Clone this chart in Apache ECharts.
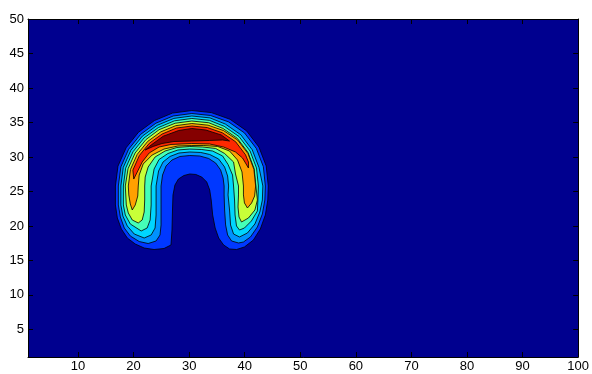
<!DOCTYPE html>
<html>
<head>
<meta charset="utf-8">
<script src="https://cdn.jsdelivr.net/npm/echarts@6/dist/echarts.min.js"></script>
<style>
html,body{margin:0;padding:0;background:#fff;}
#chart{width:592px;height:374px;}
</style>
</head>
<body>
<div id="chart"></div>
<script>
const xTicks = [10,20,30,40,50,60,70,80,90,100];
const yTicks = [5,10,15,20,25,30,35,40,45,50];
const backgroundColor = '#00008F';
const levelColors = ['#0038FF','#0092FF','#00D5FF','#45FFB8','#C8FF38','#FFA000','#FF2800','#850000'];

const level1 = [[26.73,17.24],[25.48,16.73],[23.69,16.58],[21.91,16.80],[20.30,17.38],[18.87,18.25],[17.80,19.56],[17.08,21.15],[16.73,23.04],[16.73,25.79],[17.19,28.67],[18.65,31.33],[20.88,33.58],[23.74,35.27],[26.99,36.36],[30.48,36.73],[34.00,36.43],[37.36,35.46],[40.34,33.78],[42.55,31.44],[43.86,28.70],[44.24,25.79],[44.15,23.76],[43.71,21.59],[42.81,19.56],[41.56,17.96],[39.95,16.95],[38.52,16.58],[37.27,16.66],[36.20,17.24],[35.31,18.25],[34.68,19.70],[34.23,21.59],[33.97,23.76],[33.70,25.21],[33.16,26.37],[32.27,27.09],[31.20,27.46],[30.12,27.53],[29.05,27.31],[28.07,26.80],[27.44,25.93],[27.09,24.49],[27.00,22.31],[26.91,19.41]];

const level2 = [[22.62,17.45],[21.01,17.74],[19.41,18.54],[18.33,19.70],[17.62,21.30],[17.26,23.04],[17.26,25.79],[17.71,28.56],[19.11,31.12],[21.26,33.27],[24.01,34.89],[27.13,35.94],[30.48,36.30],[33.86,36.01],[37.10,35.08],[39.96,33.48],[42.09,31.23],[43.35,28.59],[43.71,25.79],[43.62,23.76],[43.17,21.73],[42.28,19.85],[41.03,18.40],[39.77,17.67],[38.88,17.53],[37.63,17.82],[36.92,18.69],[36.56,20.14],[36.38,22.31],[36.29,24.49],[36.29,25.79],[36.11,26.95],[35.66,28.11],[34.77,29.12],[33.52,29.78],[31.91,30.14],[30.12,30.21],[28.34,30.07],[26.91,29.56],[25.84,28.69],[25.21,27.38],[24.94,25.79],[24.94,23.04],[24.94,20.14],[24.76,18.69],[24.05,17.82]];

const level3 = [[21.91,18.25],[20.12,18.83],[18.87,19.99],[18.07,21.44],[17.71,23.04],[17.71,25.79],[18.14,28.47],[19.50,30.94],[21.58,33.02],[24.23,34.58],[27.25,35.59],[30.48,35.94],[33.74,35.66],[36.51,34.77],[39.29,33.22],[41.35,31.04],[42.56,28.49],[43.26,25.79],[43.17,23.76],[42.72,22.02],[41.83,20.28],[40.49,18.98],[39.06,18.40],[37.99,18.83],[37.45,20.14],[37.27,22.31],[37.00,24.49],[37.10,25.79],[36.92,27.24],[36.38,28.54],[35.31,29.70],[33.70,30.36],[32.09,30.65],[30.12,30.72],[28.16,30.57],[26.55,30.07],[25.30,29.27],[24.50,27.96],[24.05,25.79],[24.05,23.76],[24.05,21.59],[23.87,19.70],[23.16,18.69]];

const level4 = [[21.37,19.27],[19.41,20.28],[18.51,21.59],[18.16,23.04],[18.16,25.79],[18.57,28.37],[19.89,30.75],[21.89,32.76],[24.46,34.26],[27.36,35.24],[30.48,35.58],[33.64,35.31],[36.29,34.45],[38.97,32.96],[40.96,30.86],[42.12,28.40],[42.46,25.79],[42.37,23.76],[42.28,22.17],[41.20,20.72],[39.95,19.70],[39.06,19.41],[38.52,19.99],[38.26,21.59],[38.17,23.76],[37.99,25.79],[37.81,27.38],[37.00,28.91],[36.02,30.14],[34.23,30.86],[32.27,31.08],[30.12,31.15],[27.98,31.01],[26.19,30.50],[24.58,29.63],[23.69,28.25],[23.16,25.79],[23.16,23.04],[22.98,20.86],[22.44,19.70]];

const level5 = [[20.84,20.43],[19.76,20.86],[19.05,21.88],[18.69,23.04],[18.51,25.79],[19.00,28.28],[20.27,30.57],[22.21,32.51],[24.58,33.95],[27.48,34.89],[30.48,35.21],[33.52,34.96],[36.07,34.14],[38.65,32.71],[40.57,30.68],[41.69,28.31],[42.01,25.79],[42.28,23.76],[41.83,22.31],[40.67,21.15],[39.42,20.57],[38.97,21.30],[38.79,22.75],[38.88,24.49],[38.88,25.79],[38.34,27.53],[37.99,29.27],[36.38,30.50],[34.77,31.23],[32.45,31.44],[30.12,31.52],[27.80,31.37],[25.66,30.86],[23.87,29.99],[22.62,28.54],[22.09,27.09],[22.00,25.79],[22.00,23.76],[21.91,22.02],[21.55,20.86]];

const level6 = [[19.76,22.31],[19.41,23.18],[19.14,24.49],[19.05,25.79],[19.44,28.19],[20.66,30.39],[22.53,32.25],[24.90,33.64],[27.59,34.54],[30.48,34.85],[33.40,34.61],[36.20,33.82],[38.73,32.45],[40.58,30.50],[41.65,28.21],[41.96,25.79],[41.78,24.34],[41.24,23.33],[40.49,22.60],[39.95,23.33],[39.77,24.49],[39.77,25.79],[39.51,27.82],[38.70,29.56],[37.27,30.86],[35.13,31.52],[32.63,31.66],[30.48,31.66],[27.98,31.59],[25.48,31.15],[23.34,30.28],[21.73,28.98],[21.01,27.38],[20.84,25.79],[20.75,24.34],[20.30,23.04]];

const level7 = [[20.03,26.80],[19.87,28.09],[21.04,30.21],[22.84,31.99],[25.12,33.32],[27.71,34.19],[30.48,34.49],[33.27,34.26],[35.96,33.51],[38.37,32.20],[40.14,30.32],[40.67,29.27],[40.67,28.40],[40.14,29.12],[39.60,29.85],[38.34,30.72],[36.20,31.44],[33.70,31.88],[30.48,31.95],[26.73,31.81],[24.59,31.44],[22.80,30.57],[21.55,29.27],[20.84,28.11]];

const level8 = [[22.09,31.01],[23.16,31.73],[25.34,33.01],[28.12,33.84],[30.48,34.13],[32.99,33.91],[35.75,33.20],[37.27,32.31],[36.02,32.46],[33.70,32.39],[30.48,32.31],[27.27,32.24],[25.12,31.95],[23.52,31.52]];

const levels = [level1, level2, level3, level4, level5, level6, level7, level8];

const chart = echarts.init(document.getElementById('chart'), null, {renderer: 'canvas'});

const axisFont = {color: '#000', fontSize: 13, fontFamily: 'Liberation Sans, Arial, sans-serif'};

function makeSeries(points, idx) {
  return {
    type: 'custom',
    coordinateSystem: 'cartesian2d',
    xAxisIndex: 0,
    yAxisIndex: 0,
    silent: true,
    animation: false,
    z: 2 + idx,
    data: points,
    renderItem: function (params, api) {
      if (params.dataIndex !== 0) return null;
      const pts = points.map(function (p) { return api.coord(p); });
      return {
        type: 'polygon',
        shape: {points: pts},
        style: {fill: levelColors[idx], stroke: '#000', lineWidth: 0.8}
      };
    }
  };
}

const option = {
  backgroundColor: '#fff',
  animation: false,
  grid: {left: 28, right: 10, top: 19, bottom: 17, show: true, backgroundColor: backgroundColor, borderWidth: 0},
  xAxis: [
    {type: 'value', min: 1, max: 100, position: 'bottom',
     axisLine: {show: true, onZero: false, lineStyle: {color: '#000', width: 1}},
     axisTick: {show: true, inside: true, length: 5, customValues: xTicks, lineStyle: {color: '#000'}},
     axisLabel: Object.assign({customValues: xTicks, margin: 3}, axisFont),
     splitLine: {show: false}},
    {type: 'value', min: 1, max: 100, position: 'top',
     axisLine: {show: true, onZero: false, lineStyle: {color: '#000', width: 1}},
     axisTick: {show: true, inside: true, length: 5, customValues: xTicks, lineStyle: {color: '#000'}},
     axisLabel: {show: false},
     splitLine: {show: false}}
  ],
  yAxis: [
    {type: 'value', min: 1, max: 50, position: 'left',
     axisLine: {show: true, onZero: false, lineStyle: {color: '#000', width: 1}},
     axisTick: {show: true, inside: true, length: 5, customValues: yTicks, lineStyle: {color: '#000'}},
     axisLabel: Object.assign({customValues: yTicks, margin: 4}, axisFont),
     splitLine: {show: false}},
    {type: 'value', min: 1, max: 50, position: 'right',
     axisLine: {show: true, onZero: false, lineStyle: {color: '#000', width: 1}},
     axisTick: {show: true, inside: true, length: 5, customValues: yTicks, lineStyle: {color: '#000'}},
     axisLabel: {show: false},
     splitLine: {show: false}}
  ],
  series: levels.map(makeSeries)
};

chart.setOption(option);
</script>
</body>
</html>
